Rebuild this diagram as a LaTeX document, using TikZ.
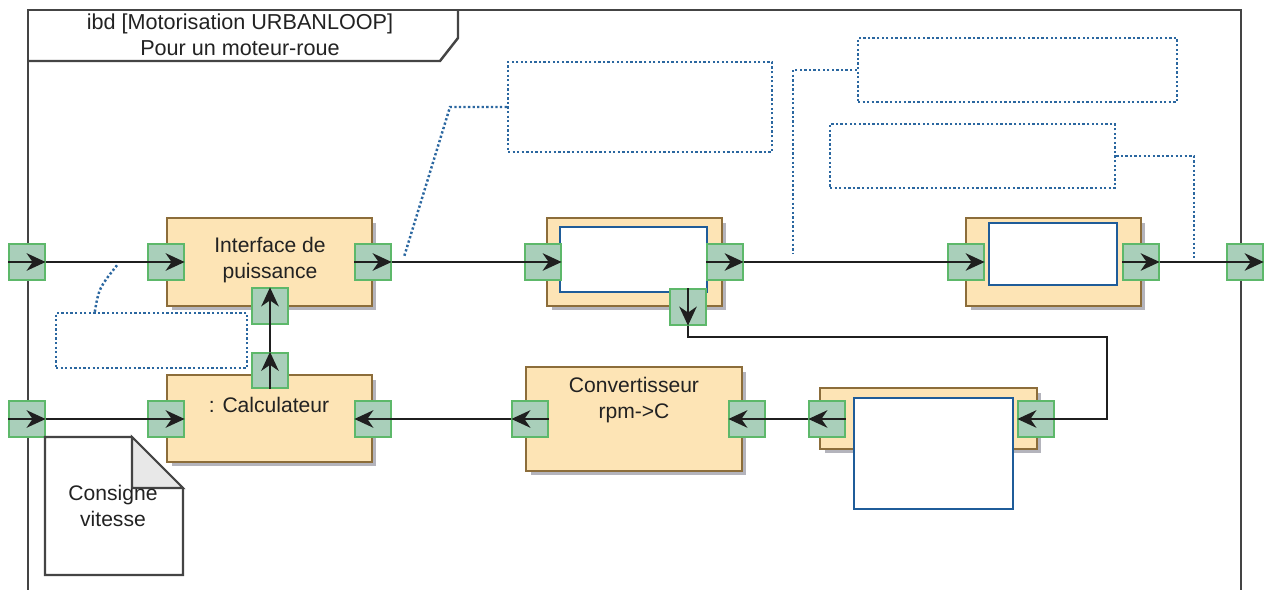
\documentclass[tikz,border=0pt]{standalone}
\usepackage{fontspec}
\setmainfont{Liberation Sans}
\usetikzlibrary{arrows.meta,calc,shadows}
\definecolor{beige}{HTML}{FDE4B5}
\definecolor{bbord}{HTML}{8C6D3A}
\definecolor{shadowc}{HTML}{B4B4BC}
\definecolor{portf}{HTML}{A9CFBA}
\definecolor{portd}{HTML}{5DB86A}
\definecolor{innerd}{HTML}{1F5C99}
\definecolor{noted}{HTML}{2B67A0}
\definecolor{framec}{HTML}{444444}
\definecolor{txt}{HTML}{222222}
\begin{document}
\begin{tikzpicture}[x=0.02cm,y=-0.02cm,
  font=\fontsize{12}{14.8}\selectfont, text=txt,
  block/.style={draw=bbord, fill=beige, line width=1pt, inner sep=0pt,
    drop shadow={shadow xshift=0.09cm, shadow yshift=-0.09cm, fill=shadowc, opacity=1}},
  innerbox/.style={draw=innerd, fill=white, line width=1.2pt, inner sep=0pt},
  port/.style={draw=portd, fill=portf, line width=1pt, minimum size=0.71cm, inner sep=0pt},
  notebox/.style={draw=noted, line width=1.4pt, dash pattern=on 1.3pt off 1.3pt, inner sep=0pt},
  noteline/.style={draw=noted, line width=1.4pt, dash pattern=on 1.3pt off 1.3pt},
  arr/.style={draw=black!88, line width=1.1pt, -{Stealth[length=3.8mm, width=3.5mm, inset=1.2mm]}},
  lbl/.style={align=center, inner sep=0pt}]
\useasboundingbox (0,0) rectangle (1267,590);
\fill[white] (0,0) rectangle (1267,590);

% frame
\draw[framec, line width=1.4pt] (28,590) -- (28,10) -- (1241,10) -- (1241,590);
\draw[framec, line width=1.4pt] (28,61) -- (440,61) -- (458,38) -- (458,10);
\node[lbl, font=\fontsize{12.3}{14.6}\selectfont] (title) at (240,35) {ibd [Motorisation URBANLOOP]\\Pour un moteur-roue};

% dotted notes
\node[notebox, minimum width=3.82cm, minimum height=1.1cm] (nA) at (151.5,340.5) {};
\node[notebox, minimum width=5.28cm, minimum height=1.8cm] (nB) at (640,107) {};
\node[notebox, minimum width=6.38cm, minimum height=1.28cm] (nC) at (1017.5,70) {};
\node[notebox, minimum width=5.7cm, minimum height=1.28cm] (nD) at (972.5,156) {};
\coordinate (cA) at (118,264);
\coordinate (cB) at (404,257);
\coordinate (cC) at (793,253);
\coordinate (cD) at (1194,258);
\coordinate (bB) at (450,107);
\coordinate (bC) at (793,70);
\coordinate (bD) at (1194,156);
\draw[noteline] ($(nA.north west)+(40,0)$) .. controls (99,288) .. (cA);
\draw[noteline] (nB.west) -- (bB) -- (cB);
\draw[noteline] (nC.west) -- (bC) -- (cC);
\draw[noteline] (nD.east) -- (bD) -- (cD);

% blocks
\node[block, minimum width=4.10cm, minimum height=1.76cm] (IP) at (269.5,262) {};
\node[block, minimum width=4.10cm, minimum height=1.74cm] (CA) at (269.5,418.5) {};
\node[block, minimum width=3.5cm, minimum height=1.76cm] (B3) at (634.5,262) {};
\node[block, minimum width=3.5cm, minimum height=1.76cm] (B4) at (1053.5,262) {};
\node[block, minimum width=4.32cm, minimum height=2.08cm] (CV) at (634,419) {};
\node[block, minimum width=4.34cm, minimum height=1.22cm] (B5) at (928.5,418.5) {};

\node[innerbox, minimum width=2.94cm, minimum height=1.3cm] (I3) at (633.5,259.5) {};
\node[innerbox, minimum width=2.56cm, minimum height=1.24cm] (I4) at (1053,254) {};
\node[innerbox, minimum width=3.18cm, minimum height=2.22cm] (I5) at (933.5,453.5) {};

\node[lbl] (tIP) at (270,260) {Interface de\\puissance};
\node[lbl] (tCA) at (269,405) {: Calculateur};
\node[lbl] (tCV) at (634,400) {Convertisseur\\rpm->C};

% ports
\node[port] (pA) at (27,262) {};
\node[port] (pB) at (166,262) {};
\node[port] (pC) at (373,262) {};
\node[port] (pD) at (543,262) {};
\node[port] (pE) at (725,262) {};
\node[port] (pF) at (966,262) {};
\node[port] (pG) at (1141,262) {};
\node[port] (pH) at (1245,262) {};
\node[port] (pI) at (270,306) {};
\node[port] (pJ) at (270,370.5) {};
\node[port] (pK) at (688,307) {};
\node[port] (pL) at (27,419) {};
\node[port] (pM) at (166,419) {};
\node[port] (pN) at (373,419) {};
\node[port] (pO) at (530,419) {};
\node[port] (pP) at (747,419) {};
\node[port] (pQ) at (827,419) {};
\node[port] (pR) at (1036,419) {};

% consigne note
\draw[framec, line width=1.2pt, fill=white] (45,437) -- (132,437) -- (183,488) -- (183,575) -- (45,575) -- cycle;
\draw[framec, line width=1.2pt, fill=black!9] (132,437) -- (132,488) -- (183,488) -- cycle;
\node[lbl] (tNote) at (113,506) {Consigne\\vitesse};

% connectors
\draw[arr] (pA.west) -- (pA.east);
\draw[arr] (pA.east) -- (pB.east);
\draw[arr] (pC.west) -- (pC.east);
\draw[arr] (pC.east) -- (pD.east);
\draw[arr] (pE.west) -- (pE.east);
\draw[arr] (pE.east) -- (pF.east);
\draw[arr] (pG.west) -- (pG.east);
\draw[arr] (pG.east) -- (pH.east);
\draw[arr] (pJ.south) -- (pJ.north);
\draw[arr] (pJ.north) -- (pI.north);
\coordinate (k1) at (688,337);
\coordinate (k2) at (1107,337);
\coordinate (k3) at (1107,419);
\draw[arr] (pK.north) -- (pK.south);
\draw[arr] (pK.south) -- (k1) -- (k2) -- (k3) -- (pR.west);
\draw[arr] (pQ.east) -- (pQ.west);
\draw[arr] (pQ.west) -- (pP.west);
\draw[arr] (pO.east) -- (pO.west);
\draw[arr] (pO.west) -- (pN.west);
\draw[arr] (pL.west) -- (pL.east);
\draw[arr] (pL.east) -- (pM.east);
\end{tikzpicture}
\end{document}
